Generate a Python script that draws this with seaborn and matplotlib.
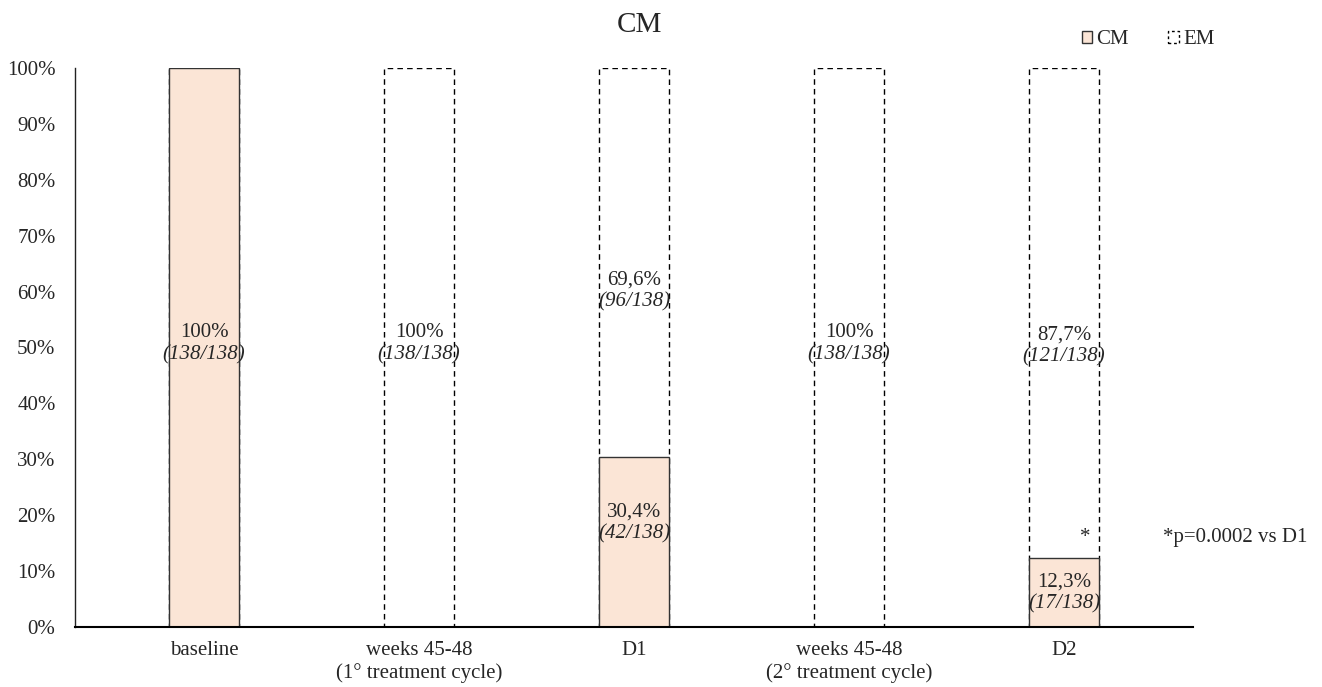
import numpy as np
import pandas as pd
import matplotlib
matplotlib.use("Agg")
import matplotlib.pyplot as plt
from matplotlib.patches import Patch
import seaborn as sns

# datos
categorias = ["baseline", "weeks 45-48\n(1° treatment cycle)", "D1",
              "weeks 45-48\n(2° treatment cycle)", "D2"]
cm_pct = [100.0, 0.0, 30.4, 0.0, 12.3]
em_pct = [0.0, 100.0, 69.6, 100.0, 87.7]
cm_txt = ["100%", "", "30,4%", "", "12,3%"]
cm_n = ["(138/138)", "", "(42/138)", "", "(17/138)"]
em_txt = ["", "100%", "69,6%", "100%", "87,7%"]
em_n = ["", "(138/138)", "(96/138)", "(138/138)", "(121/138)"]
nota_p = "*p=0.0002 vs D1"

# posiciones de etiquetas (layout)
cm_lab_y = [50.6, 0, 18.6, 0, 6.1]
em_lab_y = [0, 50.6, 60.1, 50.6, 50.3]

color_cm = "#FBE5D6"
fs = 15

sns.set_style("white")
plt.rcParams["font.family"] = ["Liberation Serif", "DejaVu Serif"]

df = pd.DataFrame({"cat": categorias, "CM": cm_pct, "EM": em_pct})
df["total"] = df["CM"] + df["EM"]

fig = plt.figure(figsize=(13.22, 6.87), dpi=100)
ax = fig.add_axes([75 / 1322, 60 / 687, (1193 - 75) / 1322, (627 - 68) / 687])

# EM (apilado encima de CM): se dibuja el total con borde discontinuo
sns.barplot(data=df, x="cat", y="total", order=categorias, color="white",
            saturation=1, width=0.33, edgecolor="black", linewidth=1.0,
            linestyle=(0, (4, 3)), errorbar=None, ax=ax)
# CM encima
sns.barplot(data=df, x="cat", y="CM", order=categorias, color=color_cm,
            saturation=1, width=0.33, edgecolor="#333333", linewidth=1.0,
            errorbar=None, ax=ax)

ax.set_xlim(-0.6, 4.6)
ax.set_ylim(0, 100)
ax.set_yticks(np.arange(0, 101, 10))
ax.set_yticklabels([f"{v}%" for v in range(0, 101, 10)], fontsize=fs)
ax.tick_params(axis="y", length=0, pad=14)
ax.tick_params(axis="x", length=0, pad=10, labelsize=fs)
ax.set_xlabel("")
ax.set_ylabel("")
for s in ["top", "right"]:
    ax.spines[s].set_visible(False)
ax.spines["left"].set_color("#222222")
ax.spines["left"].set_linewidth(1.0)
ax.spines["bottom"].set_color("black")
ax.spines["bottom"].set_linewidth(1.5)

for i in range(len(categorias)):
    if cm_txt[i]:
        ax.text(i, cm_lab_y[i] + 2.0, cm_txt[i], ha="center", va="center", fontsize=fs)
        ax.text(i, cm_lab_y[i] - 2.0, cm_n[i], ha="center", va="center",
                fontsize=fs, style="italic")
    if em_txt[i]:
        ax.text(i, em_lab_y[i] + 2.0, em_txt[i], ha="center", va="center", fontsize=fs)
        ax.text(i, em_lab_y[i] - 2.0, em_n[i], ha="center", va="center",
                fontsize=fs, style="italic")

ax.text(4.1, 16.1, "*", ha="center", va="center", fontsize=fs)
ax.text(4.46, 16.1, nota_p, ha="left", va="center", fontsize=fs, clip_on=False)

fig.text(639 / 1322, 1 - 25 / 687, "CM", ha="center", va="center", fontsize=21)

handles = [Patch(facecolor=color_cm, edgecolor="#333333", linewidth=1.0),
           Patch(facecolor="white", edgecolor="black", linestyle=(0, (2, 2)), linewidth=1.0)]
fig.legend(handles, ["CM", "EM"], loc="center", bbox_to_anchor=(1148 / 1322, 1 - 40 / 687),
           ncol=2, frameon=False, handlelength=0.5, handleheight=0.5,
           handletextpad=0.2, columnspacing=1.9, fontsize=fs)

fig.savefig("out.png", dpi=100)
plt.close(fig)
